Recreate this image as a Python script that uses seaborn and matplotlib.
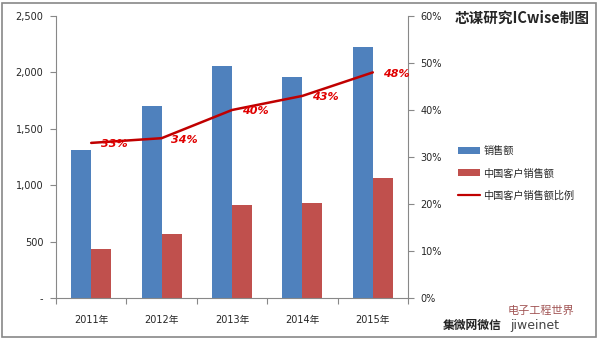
import matplotlib
matplotlib.use("Agg")
import matplotlib.pyplot as plt
import seaborn as sns
import numpy as np
import pandas as pd
from matplotlib.patches import Rectangle, Patch
from matplotlib.lines import Line2D
from matplotlib.ticker import FuncFormatter, MultipleLocator, FixedLocator

years = ["2011年", "2012年", "2013年", "2014年", "2015年"]
sales = [1312, 1702, 2057, 1960, 2225]
china_sales = [434, 567, 824, 842, 1064]
ratio = [0.33, 0.34, 0.40, 0.43, 0.48]
ratio_labels = ["33%", "34%", "40%", "43%", "48%"]
series_names = ["销售额", "中国客户销售额", "中国客户销售额比例"]

sns.set_theme(style="white")
plt.rcParams['font.family'] = ['DejaVu Sans', 'Noto Sans CJK SC']

df = pd.DataFrame({
    "year": years * 2,
    "value": sales + china_sales,
    "series": [series_names[0]] * 5 + [series_names[1]] * 5,
})

blue = "#4F81BD"
red = "#C0504D"
line_red = "#C00000"

fig = plt.figure(figsize=(6, 3.41), dpi=100)
ax = fig.add_axes([56/600, 43/341, (408-56)/600, (298-16)/341])

sns.barplot(data=df, x="year", y="value", hue="series", order=years,
            palette=[blue, red], width=0.57, saturation=1, ax=ax, legend=False)
for p in ax.patches:
    p.set_edgecolor("none")

ax.set_xlim(-0.5, 4.5)
ax.set_ylim(0, 2500)
ax.yaxis.set_major_locator(MultipleLocator(500))
ax.yaxis.set_major_formatter(FuncFormatter(lambda v, p: "-" if v == 0 else f"{int(v):,}"))
ax.set_xlabel("")
ax.set_ylabel("")
ax.xaxis.set_minor_locator(FixedLocator(np.arange(-0.5, 5, 1)))
ax.tick_params(axis="x", which="major", length=0, labelsize=7, pad=12)
ax.tick_params(axis="x", which="minor", length=4, color="#888888", width=0.8, direction="out", bottom=True)
ax.tick_params(axis="y", length=4, color="#888888", width=0.8, direction="out", left=True, labelsize=7, pad=5)
for s in ["top", "right"]:
    ax.spines[s].set_visible(False)
for s in ["left", "bottom"]:
    ax.spines[s].set_color("#888888")
    ax.spines[s].set_linewidth(0.8)

ax2 = ax.twinx()
sns.lineplot(x=np.arange(len(years)), y=ratio, color=line_red, linewidth=1.8, ax=ax2)
ax2.set_ylim(0, 0.6)
ax2.yaxis.set_major_locator(MultipleLocator(0.1))
ax2.yaxis.set_major_formatter(FuncFormatter(lambda v, p: f"{round(v*100)}%"))
ax2.tick_params(axis="y", length=4, color="#888888", width=0.8, direction="out", right=True, labelsize=7, pad=5)
for s in ["top", "left", "bottom"]:
    ax2.spines[s].set_visible(False)
ax2.spines["right"].set_color("#888888")
ax2.spines["right"].set_linewidth(0.8)
ax2.set_xlim(-0.5, 4.5)

for i, (r, lab) in enumerate(zip(ratio, ratio_labels)):
    ax2.annotate(lab, (i, r), xytext=(7, -1), textcoords="offset points",
                 ha="left", va="center", color="#E00000", fontsize=8,
                 fontweight="bold", fontstyle="italic")

handles = [Patch(facecolor=blue, edgecolor="none"),
           Patch(facecolor=red, edgecolor="none"),
           Line2D([0], [0], color=line_red, linewidth=1.6)]
fig.legend(handles, series_names, loc="upper left", bbox_to_anchor=(454/600, 1 - 142/341),
           frameon=False, fontsize=7.3, handlelength=2.2, handleheight=0.7,
           labelspacing=1.2, handletextpad=0.3, borderaxespad=0)

fig.text(455/600, 1 - 18/341, "芯谋研究ICwise制图", fontsize=10.5, fontweight="bold",
         va="center", ha="left", family=["Noto Sans CJK SC"])
fig.text(443/600, 1 - 325/341, "集微网微信", fontsize=8.5, fontweight="bold",
         va="center", ha="left", family=["Noto Sans CJK SC"], color="#222222")
fig.text(508/600, 1 - 311/341, "电子工程世界", fontsize=8, va="center", ha="left",
         family=["Noto Sans CJK SC"], color="#8a2a2a", alpha=0.8)
fig.text(510/600, 1 - 326/341, "jiweinet", fontsize=9, va="center", ha="left",
         color="#444444")

fig.add_artist(Rectangle((2/600, 4/341), 594/600, 334/341, transform=fig.transFigure,
                         fill=False, edgecolor="#888888", linewidth=1.2))

fig.savefig("out.png", dpi=100)
